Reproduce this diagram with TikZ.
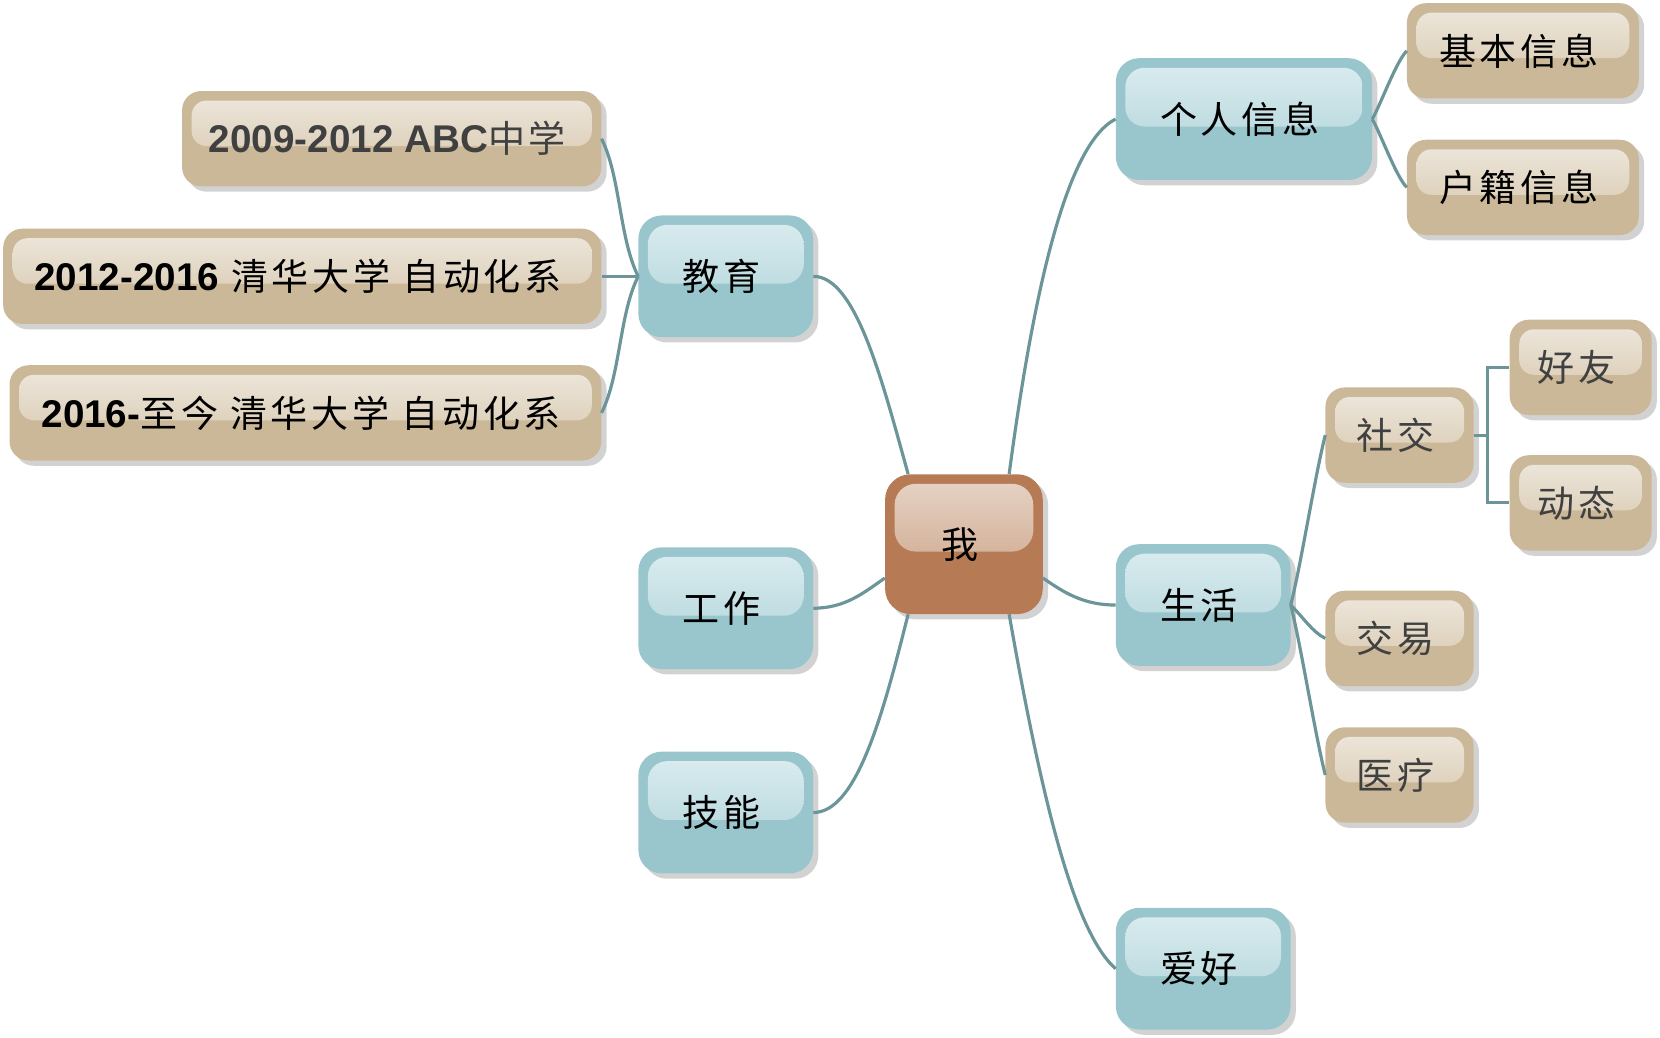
\documentclass[tikz,border=0pt]{standalone}
\usepackage{fontspec}
\setmainfont{Noto Sans CJK SC}[LetterSpace=10]
\newfontfamily\latinfont{Liberation Sans}
\usetikzlibrary{shadows}

\definecolor{meBase}{HTML}{B67B55}
\definecolor{meTop}{HTML}{E6D5C8}
\definecolor{meBot}{HTML}{C89A7A}
\definecolor{blueBase}{HTML}{99C6CD}
\definecolor{blueTop}{HTML}{DCEDF0}
\definecolor{blueBot}{HTML}{A9D0D6}
\definecolor{tanBase}{HTML}{CBB898}
\definecolor{tanTop}{HTML}{EEE8DE}
\definecolor{tanBot}{HTML}{D4C3A6}
\definecolor{linkColor}{HTML}{6B9598}
\definecolor{shadowGray}{HTML}{D2D2D2}
\definecolor{textGray}{HTML}{404040}

\newcommand{\yr}[1]{{\latinfont\bfseries\fontsize{36.5}{40}\selectfont #1}}

\tikzset{
  gloss/.style n args={3}{path picture={
      \shade[top color=#1, bottom color=#2, rounded corners=#3]
        ([shift={(9pt,-9pt)}]path picture bounding box.north west)
        rectangle ([shift={(-9pt,-7pt)}]path picture bounding box.east);}},
  topic/.style={inner sep=0pt, font=\fontsize{35}{40}\selectfont,
      execute at begin node={\kern-8pt},
      general shadow={fill=shadowGray, shadow xshift=5pt, shadow yshift=-5pt}},
  mebox/.style={topic, rounded corners=24pt, fill=meBase, gloss={meTop}{meBot}{20pt},
      minimum width=149pt, minimum height=132pt},
  bluebox/.style={topic, rounded corners=22pt, fill=blueBase, gloss={blueTop}{blueBot}{18pt},
      minimum width=165pt, minimum height=115pt},
  tanbox/.style={topic, rounded corners=18pt, fill=tanBase, gloss={tanTop}{tanBot}{14pt},
      minimum height=90pt},
  link/.style={draw=linkColor, line width=3pt},
}

\begin{document}
\begin{tikzpicture}[x=1pt, y=-1pt]
  \useasboundingbox (0,0) rectangle (1568,980);

  % centre and main branches
  \node[mebox] (me) at (910.5,514) {我};
  \node[bluebox] (edu) at (685.5,261) {教育};
  \node[bluebox] (work) at (685.5,574.5) {工作};
  \node[bluebox] (skill) at (685.5,767.5) {技能};
  \node[bluebox, minimum width=242pt] (info) at (1175,112.5) {个人信息};
  \node[bluebox] (life) at (1136.5,571.5) {生活};
  \node[bluebox] (hobby) at (1136.5,915) {爱好};

  % education
  \node[tanbox, minimum width=396pt, text=textGray] (school) at (370,131) {\yr{2009-2012 ABC}中学};
  \node[tanbox, minimum width=565pt] (univ) at (285.5,261) {\yr{2012-2016} 清华大学 自动化系};
  \node[tanbox, minimum width=559pt] (grad) at (288.5,390) {\yr{2016-}至今 清华大学 自动化系};

  % personal info
  \node[tanbox, minimum width=219pt] (basic) at (1438.5,48) {基本信息};
  \node[tanbox, minimum width=219pt] (huji) at (1438.5,177) {户籍信息};

  % life
  \node[tanbox, minimum width=140pt, text=textGray] (social) at (1322,411) {社交};
  \node[tanbox, minimum width=134pt, text=textGray] (friend) at (1493,347) {好友};
  \node[tanbox, minimum width=134pt, text=textGray] (moment) at (1493,475) {动态};
  \node[tanbox, minimum width=140pt, text=textGray] (trade) at (1322,603) {交易};
  \node[tanbox, minimum width=140pt, text=textGray] (medical) at (1322,732) {医疗};

  % links from the centre
  \draw[link] ([xshift=22pt]me.north west) .. controls +(-25,-90) and +(40,0) .. (edu.east);
  \draw[link] ([xshift=-32pt]me.north east) .. controls +(20,-150) and +(-50,25) .. (info.west);
  \draw[link] ([yshift=-32pt]me.west) .. controls +(-20,14) and +(30,0) .. (work.east);
  \draw[link] ([yshift=-32pt]me.east) .. controls +(20,14) and +(-30,0) .. (life.west);
  \draw[link] ([xshift=22pt]me.south west) .. controls +(-25,100) and +(40,0) .. (skill.east);
  \draw[link] ([xshift=-32pt]me.south east) .. controls +(30,170) and +(-40,-35) .. (hobby.west);

  % links of the branches
  \draw[link] (edu.west) .. controls +(-18,-36) and +(18,36) .. (school.east);
  \draw[link] (edu.west) -- (univ.east);
  \draw[link] (edu.west) .. controls +(-18,36) and +(18,-36) .. (grad.east);
  \draw[link] (info.east) .. controls +(8,-14) and +(-10,10) .. (basic.west);
  \draw[link] (info.east) .. controls +(8,14) and +(-10,-10) .. (huji.west);
  \draw[link] (life.east) .. controls +(10,-40) and +(-10,40) .. (social.west);
  \draw[link] (life.east) .. controls +(12,12) and +(-12,-6) .. (trade.west);
  \draw[link] (life.east) .. controls +(10,40) and +(-10,-40) .. (medical.west);
  \draw[link] (social.east) -- ++(13,0) coordinate (fork) |- (friend.west);
  \draw[link] (fork) |- (moment.west);
\end{tikzpicture}
\end{document}
